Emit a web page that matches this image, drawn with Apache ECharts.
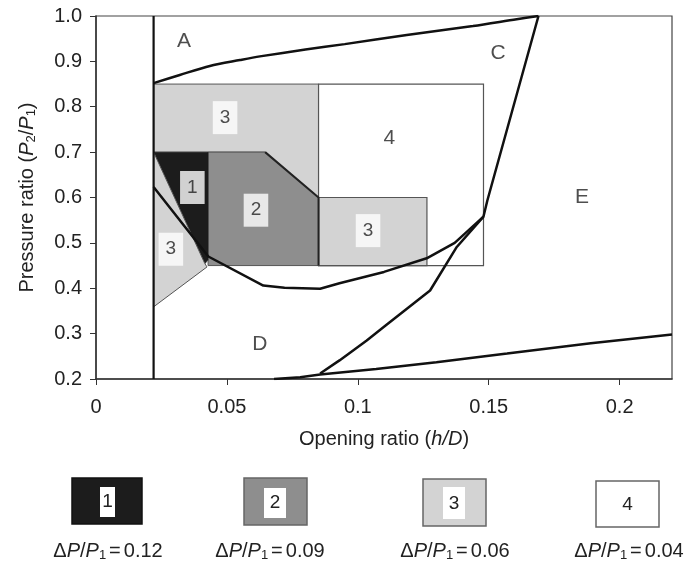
<!DOCTYPE html>
<html>
<head>
<meta charset="utf-8">
<script src="https://cdn.jsdelivr.net/npm/echarts@6/dist/echarts.min.js"></script>
<style>
html,body{margin:0;padding:0;background:#fff;}
#chart{width:688px;height:567px;}
</style>
</head>
<body>
<div id="chart"></div>
<script>
// ---- Axis settings ----
const xMin = 0, xMax = 0.22, xStep = 0.05;
const yMin = 0.2, yMax = 1.0, yStep = 0.1;

// ---- Shaded regions (h/D, P2/P1) ----
const region3Top = [[0.022,0.85],[0.085,0.85],[0.085,0.60],[0.0646,0.70],[0.022,0.70]];
const region4 = [[0.085,0.45],[0.148,0.45],[0.148,0.85],[0.085,0.85]];
const region3Mid = [[0.085,0.45],[0.1264,0.45],[0.1264,0.60],[0.085,0.60]];
const region2 = [[0.0428,0.45],[0.085,0.45],[0.085,0.60],[0.0646,0.70],[0.0428,0.70]];
const region1 = [[0.022,0.70],[0.0428,0.70],[0.0428,0.462],[0.0416,0.454]];
const region3Low = [[0.022,0.70],[0.0416,0.454],[0.0424,0.447],[0.022,0.359]];
const region2Edge = [[0.0646,0.70],[0.085,0.60],[0.085,0.45]];

// ---- Boundary curves ----
const wallLine = [[0.022,0.2],[0.022,1.0]];
const curveA = [[0.022,0.852],[0.032,0.870],[0.0435,0.890],[0.055,0.903],[0.0626,0.911],[0.08,0.926],[0.095,0.938],[0.1187,0.958],[0.144,0.978],[0.1607,0.993],[0.169,1.0]];
const curveC = [[0.169,1.0],[0.1495,0.594],[0.148,0.558],[0.1378,0.491],[0.1276,0.395],[0.11,0.315],[0.1034,0.285],[0.093,0.241],[0.0856,0.212]];
const curveD = [[0.022,0.623],[0.0429,0.47],[0.0639,0.406],[0.072,0.401],[0.0856,0.399],[0.093,0.411],[0.11,0.436],[0.1263,0.466],[0.137,0.50],[0.148,0.558]];
const curveE = [[0.068,0.200],[0.078,0.204],[0.0856,0.210],[0.107,0.222],[0.13,0.237],[0.157,0.256],[0.189,0.279],[0.22,0.298]];

// ---- Labels ----
const zoneLabels = [
  {name:'A', value:[0.0336,0.944]},
  {name:'C', value:[0.1536,0.917]},
  {name:'D', value:[0.0626,0.2765]},
  {name:'E', value:[0.1856,0.600]},
  {name:'4', value:[0.112,0.730]}
];
const boxLabels = [
  {name:'3', value:[0.0493,0.776]},
  {name:'1', value:[0.0368,0.622]},
  {name:'2', value:[0.0611,0.572]},
  {name:'3', value:[0.1039,0.527]},
  {name:'3', value:[0.0286,0.486]}
];

// ---- Legend ----
const legendNums = ['1','2','3','4'];
const legendVals = ['0.12','0.09','0.06','0.04'];
const legendColors = ['#1c1c1c','#8e8e8e','#d3d3d3','#ffffff'];

const FONT = '"Liberation Sans", Arial, Helvetica, sans-serif';
const TXT = '#222';

function poly(pts, fill, stroke, lw, z) {
  return {
    type:'custom', z:z, silent:true, data:[0],
    renderItem:function(p, api){
      return {type:'polygon', shape:{points: pts.map(function(pt){return api.coord(pt);})},
        style:{fill:fill, stroke:stroke, lineWidth:lw}};
    }
  };
}
function line(pts, w, color, z, smooth) {
  return {type:'line', data:pts, symbol:'none', silent:true, z:z, animation:false, smooth:smooth||false,
    lineStyle:{color:color||'#111', width:w}};
}

const chart = echarts.init(document.getElementById('chart'), null, {renderer:'canvas'});

const series = [
  poly(region3Top, '#d3d3d3', '#555', 1, 1),
  poly(region4, '#ffffff', '#555', 1.2, 2),
  poly(region3Mid, '#d3d3d3', '#555', 1.2, 3),
  poly(region2, '#8e8e8e', '#555', 1, 3),
  poly(region1, '#1c1c1c', '#1c1c1c', 0.5, 4),
  poly(region3Low, '#d3d3d3', '#555', 1, 4),
  line(region2Edge, 2, '#222', 5),
  line(wallLine, 2.2, '#111', 6),
  line(curveA, 2.5, '#111', 6, 0.3),
  line(curveC, 2.5, '#111', 6),
  line(curveD, 2.5, '#111', 6),
  line(curveE, 2.5, '#111', 6),
  {type:'scatter', z:8, silent:true, symbolSize:0, data:zoneLabels,
    label:{show:true, position:'inside', formatter:'{b}', fontFamily:FONT, fontSize:21, color:TXT}},
  {type:'scatter', z:8, silent:true, symbolSize:0, data:boxLabels,
    label:{show:true, position:'inside', formatter:'{b}', fontFamily:FONT, fontSize:19, color:TXT,
      backgroundColor:'#fff', padding:[8,7,6,7]}}
];

// legend graphics
const legendBoxes = [
  {x:72, y:478, w:70, h:46, inner:[100,487,15,30]},
  {x:244, y:478, w:63, h:47, inner:[264,488,22,30]},
  {x:423, y:479, w:63, h:47, inner:[443,487,22,32]},
  {x:596, y:481, w:63, h:46, inner:null}
];
const legendTextX = [108, 270, 455, 629];
const graphic = [];
legendBoxes.forEach(function(b, i){
  graphic.push({type:'rect', shape:{x:b.x, y:b.y, width:b.w, height:b.h},
    style:{fill:legendColors[i], stroke:i===0?'#111':'#666', lineWidth:1.5}});
  if (b.inner) {
    graphic.push({type:'rect', shape:{x:b.inner[0], y:b.inner[1], width:b.inner[2], height:b.inner[3]},
      style:{fill:'#fff'}});
  }
  graphic.push({type:'text', x:b.inner ? b.inner[0] + b.inner[2]/2 : b.x + b.w/2, y:b.y + b.h/2 + 1,
    style:{text:legendNums[i], fontFamily:FONT, fontSize:19, fill:TXT, align:'center', verticalAlign:'middle'}});
  graphic.push({type:'text', x:legendTextX[i], y:551,
    style:{text:'{n|Δ}{i|P}{n|/}{i|P}{s|1}{e|=}{n|' + legendVals[i] + '}',
      align:'center', verticalAlign:'middle',
      rich:{
        n:{fontFamily:FONT, fontSize:20, fill:TXT, lineHeight:22},
        e:{fontFamily:FONT, fontSize:20, fill:TXT, lineHeight:22, padding:[0,3,0,3]},
        i:{fontFamily:FONT, fontSize:20, fill:TXT, fontStyle:'italic', lineHeight:22},
        s:{fontFamily:FONT, fontSize:13, fill:TXT, lineHeight:12, verticalAlign:'bottom'}
      }}});
});

chart.setOption({
  animation:false,
  backgroundColor:'#fff',
  grid:{left:96, right:16, top:16, bottom:188, show:true, borderColor:'#444', borderWidth:1.2, backgroundColor:'transparent'},
  xAxis:{
    type:'value', min:xMin, max:xMax, interval:xStep,
    name:'{n|Opening ratio (}{i|h/D}{n|)}', nameLocation:'middle', nameGap:50,
    nameTextStyle:{rich:{
      n:{fontFamily:FONT, fontSize:20, color:TXT},
      i:{fontFamily:FONT, fontSize:20, color:TXT, fontStyle:'italic'}
    }},
    axisLine:{lineStyle:{color:'#333', width:1.5}},
    axisTick:{show:true, length:6, lineStyle:{color:'#333'}},
    axisLabel:{fontFamily:FONT, fontSize:20, color:TXT, margin:18, showMaxLabel:false,
      formatter:function(v){return String(+v.toFixed(2));}},
    splitLine:{show:false}
  },
  yAxis:{
    type:'value', min:yMin, max:yMax, interval:yStep,
    name:'{n|Pressure ratio (}{i|P}{s|2}{n|/}{i|P}{s|1}{n|)}', nameLocation:'middle', nameGap:58,
    nameTextStyle:{rich:{
      n:{fontFamily:FONT, fontSize:20, color:TXT, lineHeight:22},
      i:{fontFamily:FONT, fontSize:20, color:TXT, fontStyle:'italic', lineHeight:22},
      s:{fontFamily:FONT, fontSize:13, color:TXT, lineHeight:12, verticalAlign:'bottom'}
    }},
    axisLine:{lineStyle:{color:'#333', width:1.5}},
    axisTick:{show:true, length:6, lineStyle:{color:'#333'}},
    axisLabel:{fontFamily:FONT, fontSize:20, color:TXT, margin:14,
      formatter:function(v){return v.toFixed(1);}},
    splitLine:{show:false}
  },
  graphic:graphic,
  series:series
});
</script>
</body>
</html>
